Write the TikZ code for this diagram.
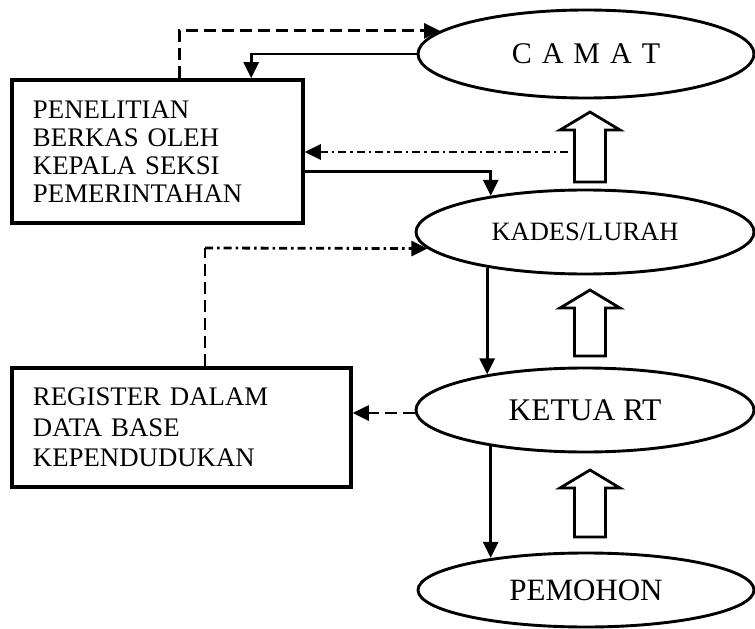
\documentclass[tikz,border=0pt]{standalone}
\usepackage{fontspec}
\setmainfont{Liberation Serif}
\usetikzlibrary{arrows.meta,calc,shapes.geometric}
\tikzset{
  boxnode/.style={draw,line width=3.6bp,inner sep=0pt,inner xsep=21bp,align=left},
  ellnode/.style={draw,ellipse,line width=2.9bp,inner sep=0pt},
  conn/.style={line width=2.8bp,-{Triangle[length=16bp,width=15bp]}},
  plainline/.style={line width=2.8bp},
  dashedline/.style={dash pattern=on 12bp off 6bp},
  dashdotline/.style={dash pattern=on 8bp off 4bp on 2.5bp off 4bp},
  blockarrow/.style={draw,line width=2.8bp,line join=miter,fill=white}
}
\newcommand\hollowup[3]{\draw[blockarrow,shift={(#1,#2)}] (-15.5,#3) -- (-15.5,18) -- (-30,18) -- (0,0) -- (30,18) -- (15.5,18) -- (15.5,#3) -- cycle;}
\begin{document}
\begin{tikzpicture}[x=1bp,y=-1bp]
\useasboundingbox[fill=white] (0,0) rectangle (755,629);

% boxes
\node[boxnode,minimum width=289bp,minimum height=143bp,text width=249bp,
      font=\fontsize{26.8bp}{28bp}\selectfont] (box1) at (157.5,151.5)
  {PENELITIAN\\BERKAS OLEH\\KEPALA SEKSI\\PEMERINTAHAN};
\node[boxnode,minimum width=337bp,minimum height=119bp,text width=297bp,
      font=\fontsize{26.8bp}{30.3bp}\selectfont] (box2) at (181.5,427.5)
  {REGISTER DALAM\\DATA BASE\\KEPENDUDUKAN};

% ellipses
\node[ellnode,minimum width=336bp,minimum height=88bp,
      font=\fontsize{30bp}{30bp}\selectfont] (camat) at (586,54)
  {C\hspace{10bp}A\hspace{10bp}M\hspace{10bp}A\hspace{10bp}T};
\node[ellnode,minimum width=338bp,minimum height=84bp,
      font=\fontsize{26.5bp}{26.5bp}\selectfont] (kades) at (585,232) {KADES/LURAH};
\node[ellnode,minimum width=338bp,minimum height=84bp,
      font=\fontsize{31.5bp}{31.5bp}\selectfont] (ketua) at (585,410) {KETUA RT};
\node[ellnode,minimum width=336bp,minimum height=74bp,
      font=\fontsize{31bp}{31bp}\selectfont] (pemohon) at (586,590) {PEMOHON};

% hollow block arrows
\hollowup{590}{112}{70}
\hollowup{590}{290}{66}
\hollowup{590}{470}{67}

% connectors
\coordinate (dd1) at (568,152);
\coordinate (c2) at (205,248);
\coordinate (kw) at ($(ketua.west)+(0,3)$);
\draw[conn,dashedline] ($(box1.north west)+(169,0)$) |- (camat.171);
\draw[conn] (camat.west) -| ($(box1.north west)+(241,0)$);
\draw[conn,dashdotline] (dd1) -- (dd1 -| box1.east);
\draw[conn] ($(box1.east)+(0,20)$) -| (kades.159);
\draw[plainline,dashedline] (box2.north -| c2) -- (c2);
\draw[conn,dashdotline] (c2) -- (kades.186);
\draw[conn] (kades.200) -- (kades.200 |- ketua.160);
\draw[conn,dashedline] (kw) -- (kw -| box2.east);
\draw[conn] (ketua.201) -- (ketua.201 |- pemohon.161);
\end{tikzpicture}
\end{document}
